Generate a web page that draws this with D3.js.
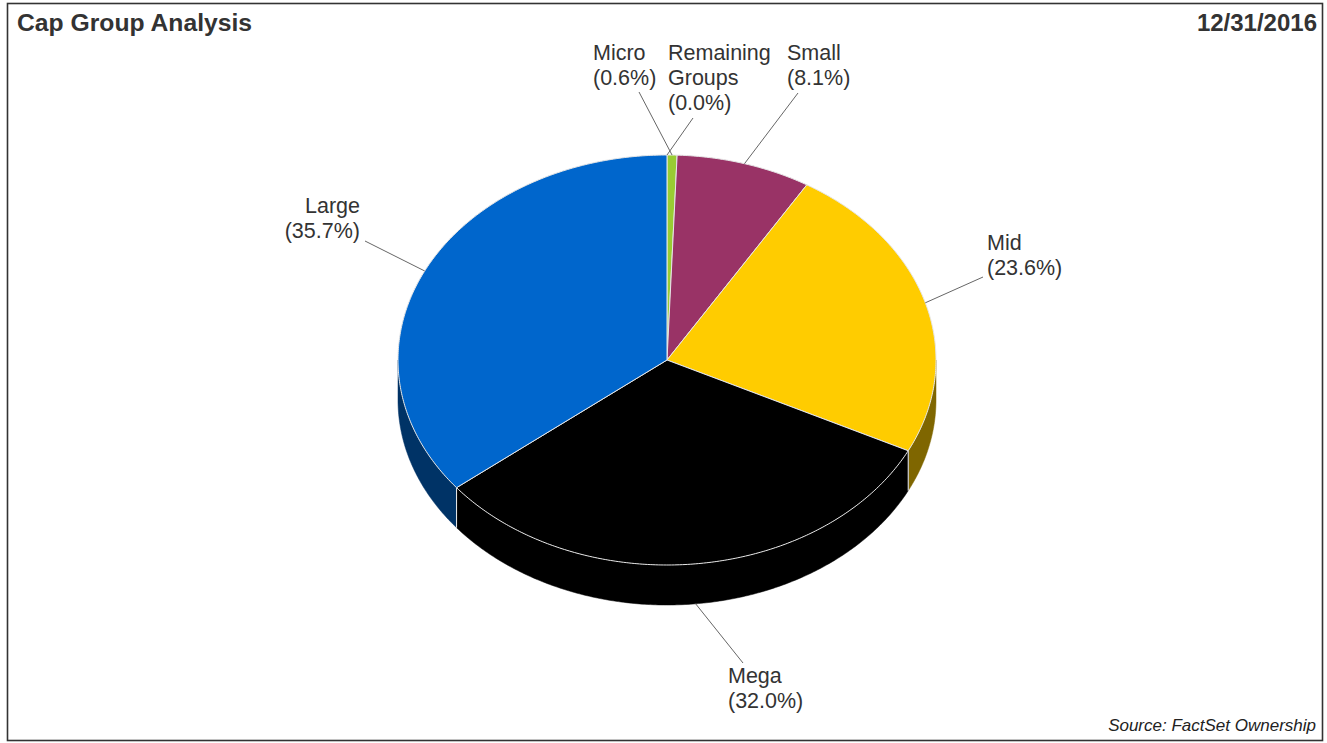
<!DOCTYPE html>
<html>
<head>
<meta charset="utf-8">
<script src="https://cdn.jsdelivr.net/npm/d3@7/dist/d3.min.js"></script>
<style>
  html, body { margin: 0; padding: 0; background: #fff; }
  svg { display: block; font-family: "Liberation Sans", Arial, sans-serif; }
</style>
</head>
<body>
<svg id="chart" width="1327" height="743"></svg>
<script>
// Cap group weights, clockwise from 12 o'clock
const groups  = ["Remaining Groups", "Micro", "Small", "Mid", "Mega", "Large"];
const weights = [0.0, 0.6, 8.1, 23.6, 32.0, 35.7];
const labelLines = [["Remaining", "Groups", "(0.0%)"], ["Micro", "(0.6%)"], ["Small", "(8.1%)"],
                    ["Mid", "(23.6%)"], ["Mega", "(32.0%)"], ["Large", "(35.7%)"]];
const topColors  = ["#7f7f7f", "#99cc33", "#993366", "#ffcc00", "#000000", "#0066cc"];
const sideColors = ["#3f3f3f", "#4c6619", "#4c1933", "#7f6600", "#000000", "#003366"];

const title = "Cap Group Analysis";
const dateLabel = "12/31/2016";
const source = "Source: FactSet Ownership";

// Geometry of the tilted pie
const cx = 667, cy = 360, rx = 269, ry = 205, depth = 40;

// Label placement relative to the pie centre: leader end and first text baseline
const labelLayout = {
  "Remaining Groups": { end: [26, -242],  text: [1, -300],    anchor: "start" },
  "Micro":            { end: [-28, -268], text: [-74, -300],  anchor: "start" },
  "Small":            { end: [131, -267], text: [120, -300],  anchor: "start" },
  "Mid":              { end: [316, -83],  text: [320, -110],  anchor: "start" },
  "Mega":             { end: [76, 303],   text: [61, 323],    anchor: "start" },
  "Large":            { end: [-302, -119],text: [-307, -147], anchor: "end" }
};

const svg = d3.select("#chart");

// Frame
svg.append("rect").attr("x", 7.5).attr("y", 3.5).attr("width", 1315).attr("height", 737)
  .attr("fill", "none").attr("stroke", "#333").attr("stroke-width", 1.6);

svg.append("text").attr("x", 17).attr("y", 31).attr("font-size", 24.7).attr("font-weight", "bold")
  .attr("fill", "#333").text(title);
svg.append("text").attr("x", 1317).attr("y", 31).attr("text-anchor", "end").attr("font-size", 24)
  .attr("font-weight", "bold").attr("fill", "#333").text(dateLabel);
svg.append("text").attr("x", 1316).attr("y", 731).attr("text-anchor", "end").attr("font-size", 17)
  .attr("font-style", "italic").attr("fill", "#222").text(source);

const pie = d3.pie().sort(null).value(d => d.value);
const arcs = pie(groups.map((g, i) => ({ name: g, value: weights[i], i })));

// Point on the ellipse for an angle measured clockwise from 12 o'clock
const pt = (a, dy = 0) => [cx + rx * Math.sin(a), cy - ry * Math.cos(a) + dy];

function ellipseArcPath(a0, a1, dy) {
  const n = Math.max(2, Math.ceil(Math.abs(a1 - a0) / 0.01));
  const p = [];
  for (let k = 0; k <= n; k++) p.push(pt(a0 + (a1 - a0) * k / n, dy));
  return p;
}

const g = svg.append("g");

// Side walls: only the front half (pi/2 .. 3pi/2) is visible
const sides = g.append("g");
arcs.forEach(d => {
  const a0 = Math.max(d.startAngle, Math.PI / 2);
  const a1 = Math.min(d.endAngle, 3 * Math.PI / 2);
  if (a1 <= a0) return;
  const topEdge = ellipseArcPath(a0, a1, 0);
  const botEdge = ellipseArcPath(a1, a0, depth);
  const pts = topEdge.concat(botEdge);
  sides.append("path")
    .attr("d", d3.line()(pts) + "Z")
    .attr("fill", sideColors[d.data.i])
    .attr("stroke", sideColors[d.data.i]).attr("stroke-width", 0.5);
  // vertical seams where slices meet on the wall
  [a0, a1].forEach(a => {
    if (a > Math.PI / 2 + 1e-6 && a < 3 * Math.PI / 2 - 1e-6) {
      const p0 = pt(a), p1 = pt(a, depth);
      sides.append("line").attr("x1", p0[0]).attr("y1", p0[1]).attr("x2", p1[0]).attr("y2", p1[1])
        .attr("stroke", "#e8e8e8").attr("stroke-width", 1);
    }
  });
});

// Top faces
const tops = g.append("g");
arcs.forEach(d => {
  if (d.endAngle - d.startAngle <= 0) return;
  const pts = [[cx, cy]].concat(ellipseArcPath(d.startAngle, d.endAngle, 0));
  tops.append("path")
    .attr("d", d3.line()(pts) + "Z")
    .attr("fill", topColors[d.data.i])
    .attr("stroke", "#e6e6e6").attr("stroke-width", 1).attr("stroke-linejoin", "round");
});

// Labels with leader lines
const labels = svg.append("g").attr("font-size", 21.5).attr("fill", "#333");
arcs.forEach(d => {
  const lay = labelLayout[d.data.name];
  const mid = (d.startAngle + d.endAngle) / 2;
  const onFront = mid > Math.PI / 2 && mid < 3 * Math.PI / 2;
  const p = pt(mid, onFront ? depth : 0);
  labels.append("line")
    .attr("x1", p[0]).attr("y1", p[1])
    .attr("x2", cx + lay.end[0]).attr("y2", cy + lay.end[1])
    .attr("stroke", "#666").attr("stroke-width", 1);
  const t = labels.append("text")
    .attr("text-anchor", lay.anchor)
    .attr("x", cx + lay.text[0]).attr("y", cy + lay.text[1]);
  labelLines[d.data.i].forEach((s, k) => {
    t.append("tspan").attr("x", cx + lay.text[0]).attr("dy", k === 0 ? 0 : 25).text(s);
  });
});
</script>
</body>
</html>
